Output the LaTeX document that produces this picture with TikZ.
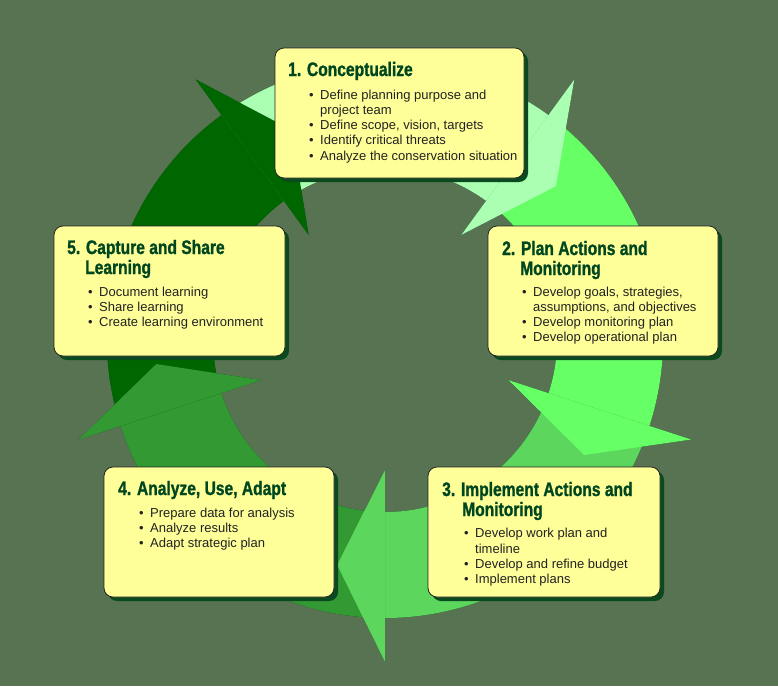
\documentclass[tikz,border=0pt]{standalone}
\usepackage{fontspec}
\setmainfont{Liberation Sans}
\newfontfamily\titlefont[FakeStretch=0.80, BoldFeatures={FakeBold=1.2}]{Liberation Sans}
\usetikzlibrary{calc}
\definecolor{bgc}{HTML}{587352}
\definecolor{segA}{HTML}{AAFFB2}
\definecolor{segB}{HTML}{66FF66}
\definecolor{segC}{HTML}{5CD65C}
\definecolor{segD}{HTML}{339933}
\definecolor{segE}{HTML}{006600}
\definecolor{shad}{HTML}{0B4A1E}
\definecolor{boxfill}{HTML}{FFFF99}
\definecolor{boxline}{HTML}{222222}
\definecolor{titlec}{HTML}{00471F}
\definecolor{bodyc}{HTML}{222222}
\newcommand\ringseg[3]{%
  \fill[#3] ($(C)+(#1:278)$) arc[start angle=#1, end angle=#2, radius=278pt]
    -- ($(C)+(#2:172)$) arc[start angle=#2, end angle=#1, radius=172pt] -- cycle;}
\newcommand\ahead[2]{%
  \pgfmathsetmacro\tipang{#1-12}%
  \fill[#2] ($(C)+(#1:322)$) -- ($(C)+(\tipang:230)$) -- ($(C)+(#1:130)$) -- cycle;}
\newcommand\cardbox[5]{% name, x1, y1, x2, y2
  \fill[shad, rounded corners=9pt] (#2+4,#3-4) rectangle (#4+4,#5-4);
  \draw[boxcard] (#2,#3) rectangle (#4,#5);
  \coordinate (#1) at (#2,#3);}
\tikzset{
  boxcard/.style={fill=boxfill, draw=boxline, line width=0.8pt, rounded corners=9pt},
  ttl/.style={anchor=base west, inner sep=0pt, text=titlec, font=\titlefont\bfseries\fontsize{19.5}{20}\selectfont},
  bodytxt/.style={anchor=base west, inner sep=0pt, text=bodyc, font=\fontsize{13}{15}\selectfont},
}
\newcommand\bul[1]{\makebox[11pt][l]{\textbullet}#1}
\begin{document}
\begin{tikzpicture}[x=1pt,y=1pt]
\fill[bgc] (0,0) rectangle (778,-686);
\useasboundingbox (0,0) rectangle (778,-686);
\coordinate (C) at (385,-340);
% shadow layer
\begin{scope}[shift={(4,-4)}]
  \ringseg{126}{54}{shad}
  \ringseg{54}{-18}{shad}
  \ringseg{-18}{-90}{shad}
  \ringseg{-90}{-162}{shad}
  \ringseg{-162}{-234}{shad}
  \ahead{54}{shad}
  \ahead{-18}{shad}
  \ahead{-90}{shad}
  \ahead{-162}{shad}
  \ahead{126}{shad}
\end{scope}
% shafts
\ringseg{126}{54}{segA}
\ringseg{54}{-18}{segB}
\ringseg{-18}{-90}{segC}
\ringseg{-90}{-162}{segD}
\ringseg{-162}{-234}{segE}
% heads
\ahead{54}{segA}
\ahead{-18}{segB}
\ahead{-90}{segC}
\ahead{-162}{segD}
\ahead{126}{segE}
% boxes
\cardbox{b1}{275}{-48}{524}{-178}
\cardbox{b2}{488}{-226}{718}{-356}
\cardbox{b3}{428}{-467}{660}{-597}
\cardbox{b4}{104}{-467}{334}{-597}
\cardbox{b5}{54}{-226}{285}{-356}
% box 1
\node[ttl] (t1) at (288,-76) {1. Conceptualize};
\node[bodytxt] (t1a) at (309,-99.3) {\bul{Define planning purpose and}};
\node[bodytxt] (t1b) at (320,-114.5) {project team};
\node[bodytxt] (t1c) at (309,-129.7) {\bul{Define scope, vision, targets}};
\node[bodytxt] (t1d) at (309,-144.9) {\bul{Identify critical threats}};
\node[bodytxt] (t1e) at (309,-160.1) {\bul{Analyze the conservation situation}};
% box 2
\node[ttl] (t2) at (502,-255) {2. Plan Actions and};
\node[ttl] (t2m) at (520,-275) {Monitoring};
\node[bodytxt] (t2a) at (522,-296.3) {\bul{Develop goals, strategies,}};
\node[bodytxt] (t2b) at (533,-311.5) {assumptions, and objectives};
\node[bodytxt] (t2c) at (522,-326.7) {\bul{Develop monitoring plan}};
\node[bodytxt] (t2d) at (522,-341.9) {\bul{Develop operational plan}};
% box 3
\node[ttl] (t3) at (442,-496) {3. Implement Actions and};
\node[ttl] (t3m) at (462,-516) {Monitoring};
\node[bodytxt] (t3a) at (464,-537.8) {\bul{Develop work plan and}};
\node[bodytxt] (t3b) at (475,-553) {timeline};
\node[bodytxt] (t3c) at (464,-568.2) {\bul{Develop and refine budget}};
\node[bodytxt] (t3d) at (464,-583.4) {\bul{Implement plans}};
% box 4
\node[ttl] (t4) at (118,-495) {4. Analyze, Use, Adapt};
\node[bodytxt] (t4a) at (139,-517.5) {\bul{Prepare data for analysis}};
\node[bodytxt] (t4b) at (139,-532.7) {\bul{Analyze results}};
\node[bodytxt] (t4c) at (139,-547.9) {\bul{Adapt strategic plan}};
% box 5
\node[ttl] (t5) at (67,-254) {5. Capture and Share};
\node[ttl] (t5m) at (85,-274) {Learning};
\node[bodytxt] (t5a) at (88,-296.3) {\bul{Document learning}};
\node[bodytxt] (t5b) at (88,-311.5) {\bul{Share learning}};
\node[bodytxt] (t5c) at (88,-326.7) {\bul{Create learning environment}};
\end{tikzpicture}
\end{document}
